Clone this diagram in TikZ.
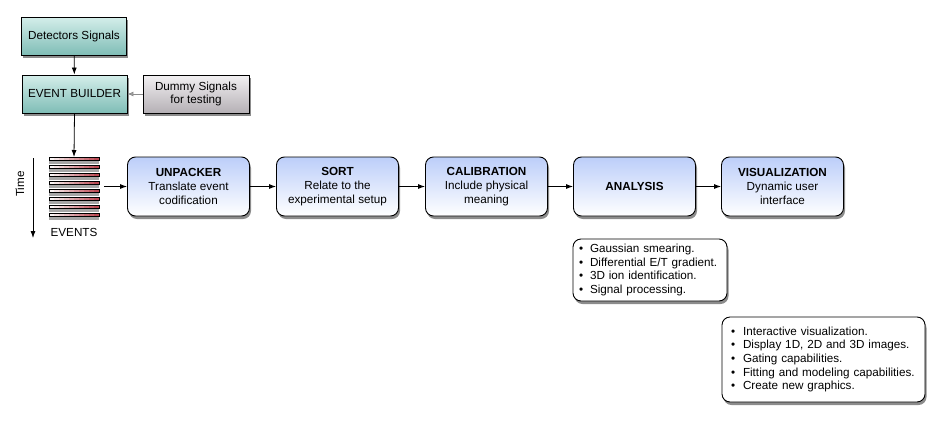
\documentclass[tikz,border=0pt]{standalone}
\usepackage{fontspec}
\setmainfont{Liberation Sans}
\usetikzlibrary{shadows,arrows.meta,positioning}
\definecolor{bluetop}{HTML}{BCCEF9}
\definecolor{tealtop}{HTML}{D4EEEA}
\definecolor{tealbot}{HTML}{7FBDB6}
\definecolor{greytop}{HTML}{F2F0F2}
\definecolor{greybot}{HTML}{B5B0B5}
\definecolor{barred}{HTML}{B8424C}
\tikzset{
  x=1pt,y=-1pt,
  every node/.style={font=\fontsize{11.7}{14}\selectfont},
  sh/.style={drop shadow={shadow xshift=1.5pt,shadow yshift=-3pt,opacity=0.45,fill=black}},
  procbox/.style={draw=black,line width=0.9pt,rounded corners=8pt,minimum width=122pt,minimum height=59pt,
    top color=bluetop,bottom color=white,align=center,sh,inner sep=2pt},
  tealbox/.style={draw=black,line width=0.9pt,minimum width=105pt,minimum height=38pt,
    top color=tealtop,bottom color=tealbot,align=center,sh},
  greybox/.style={draw=black,line width=0.9pt,minimum width=106pt,minimum height=38pt,
    top color=greytop,bottom color=greybot,align=center,sh,font=\fontsize{11.7}{13}\selectfont},
  listbox/.style={draw=black,line width=0.9pt,rounded corners=8pt,fill=white,align=left,sh,inner ysep=0pt,
    font=\fontsize{11.7}{13.6}\selectfont},
  flow/.style={line width=0.8pt,-{Latex[length=7pt,width=5pt]}},
}
\begin{document}
\begin{tikzpicture}
\useasboundingbox (0,0) rectangle (945,426);
\node[tealbox] (det) at (74,36) {Detectors Signals};
\node[tealbox] (eb) at (74.5,94) {EVENT BUILDER};
\node[greybox] (dummy) at (196,94) {Dummy Signals\\for testing};
% event stack
\coordinate (stk) at (74,157);
\foreach \k in {0,...,7}{
  \fill[black,opacity=0.35] (49,157+8*\k+2) rectangle (99,157+8*\k+7);
}
\foreach \k in {0,...,7}{
  \foreach \j in {0,...,9}{
    \pgfmathsetmacro{\pc}{\j*10+5}
    \fill[barred!\pc!white] (49+5*\j,157+8*\k) rectangle (54.2+5*\j,157+8*\k+3.5);
  }
  \draw[line width=0.6pt] (49,157+8*\k) rectangle (99,157+8*\k+3.5);
}
\node[minimum width=50pt,minimum height=59pt,inner sep=0pt] (events) at (74,186.5) {};
\node (evlabel) at (74,232) {EVENTS};
\coordinate (t0) at (33,158);
\coordinate (t1) at (33,238);
\draw[flow] (t0) -- (t1);
\node[rotate=90] (time) at (20,184) {Time};
\draw[flow] (det) -- (eb);
\draw[flow,draw=black!45,-{Latex[length=6pt,width=5pt,fill=black!35]}] (dummy) -- (eb);
\draw[flow] (eb.south) -- (stk);
\node[procbox] (unp) at (188.5,186.5) {\textbf{UNPACKER}\\Translate event\\codification};
\node[procbox] (sort) at (337.5,186.5) {\textbf{SORT}\\Relate to the\\experimental setup};
\node[procbox] (cal) at (486.5,186.5) {\textbf{CALIBRATION}\\Include physical\\meaning};
\node[procbox] (ana) at (634.5,186.5) {\textbf{ANALYSIS}};
\node[procbox] (vis) at (782.5,186.5) {\textbf{VISUALIZATION}\\Dynamic user\\interface};
\draw[flow] ([xshift=5pt]events.east) -- (unp);
\draw[flow] (unp) -- (sort);
\draw[flow] (sort) -- (cal);
\draw[flow] (cal) -- (ana);
\draw[flow] (ana) -- (vis);
\node[listbox,inner xsep=6pt,minimum width=154pt,minimum height=62pt,text width=142pt] (l1) at (650,270)
 {\makebox[11pt][l]{\textbullet}Gaussian smearing.\\
  \makebox[11pt][l]{\textbullet}Differential E/T gradient.\\
  \makebox[11pt][l]{\textbullet}3D ion identification.\\
  \makebox[11pt][l]{\textbullet}Signal processing.};
\node[listbox,inner xsep=9pt,minimum width=203pt,minimum height=85pt,text width=185pt] (l2) at (823.5,359.5)
 {\makebox[12pt][l]{\textbullet}Interactive visualization.\\
  \makebox[12pt][l]{\textbullet}Display 1D, 2D and 3D images.\\
  \makebox[12pt][l]{\textbullet}Gating capabilities.\\
  \makebox[12pt][l]{\textbullet}Fitting and modeling capabilities.\\
  \makebox[12pt][l]{\textbullet}Create new graphics.};
\end{tikzpicture}
\end{document}
